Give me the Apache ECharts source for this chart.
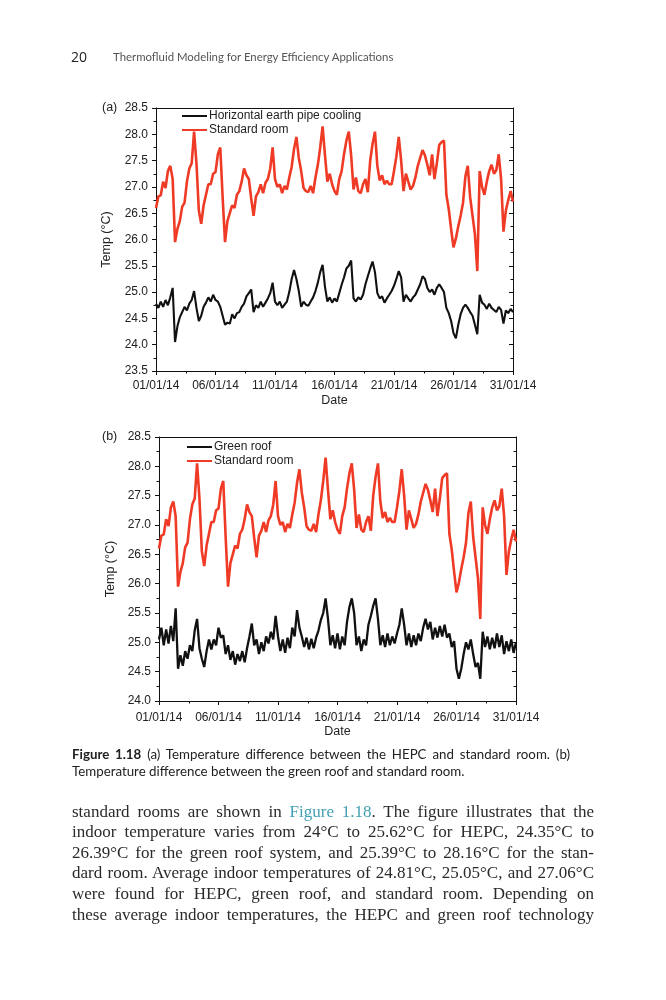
<!DOCTYPE html>
<html>
<head>
<meta charset="utf-8">
<script src="https://cdn.jsdelivr.net/npm/echarts/dist/echarts.min.js"></script>
<style>
html,body{margin:0;padding:0;background:#fff;}
#page{position:relative;width:666px;height:1000px;overflow:hidden;background:#fff;}
#chart{position:absolute;left:0;top:0;width:666px;height:1000px;}
.t{position:absolute;white-space:nowrap;}
.just{text-align:justify;text-align-last:justify;white-space:nowrap;}
.body{font-family:'Liberation Serif',serif;font-size:17px;line-height:20px;color:#2a2a2a;width:522px;left:72px;}
.cap{font-family:Lato,'Open Sans',sans-serif;font-size:13.3px;line-height:17px;color:#222;left:72px;}
.link{color:#3f9fb2;}
</style>
</head>
<body>
<div id="page">
  <div id="chart"></div>
  <div class="t" style="left:71px;top:48px;font-family:'Open Sans',sans-serif;font-size:14px;line-height:18px;color:#222;">20</div>
  <div class="t" style="left:113px;top:49px;font-family:Lato,sans-serif;font-size:11.4px;line-height:16px;color:#555;">Thermofluid Modeling for Energy Efficiency Applications</div>

  <div class="t cap just" style="top:746px;width:498px;"><b>Figure 1.18</b> (a) Temperature difference between the HEPC and standard room. (b)</div>
  <div class="t cap" style="top:763px;">Temperature difference between the green roof and standard room.</div>

  <div class="t body just" style="top:802px;">standard rooms are shown in <span class="link">Figure 1.18</span>. The figure illustrates that the</div>
  <div class="t body just" style="top:822px;">indoor temperature varies from 24°C to 25.62°C for HEPC, 24.35°C to</div>
  <div class="t body just" style="top:843px;">26.39°C for the green roof system, and 25.39°C to 28.16°C for the stan-</div>
  <div class="t body just" style="top:863px;">dard room. Average indoor temperatures of 24.81°C, 25.05°C, and 27.06°C</div>
  <div class="t body just" style="top:884px;">were found for HEPC, green roof, and standard room. Depending on</div>
  <div class="t body just" style="top:905px;">these average indoor temperatures, the HEPC and green roof technology</div>
</div>
<script>
// Samples every 0.2 day from 01/01/14 (day 0) to 31/01/14 (day 30)
const SAMPLE_STEP_DAYS = 0.2;

const xTickLabels = ['01/01/14','06/01/14','11/01/14','16/01/14','21/01/14','26/01/14','31/01/14'];

// Standard room temperature (°C) — same room shown in (a) and (b)
const standardRoom = [
  26.60,26.82,26.84,27.10,26.98,27.30,27.40,27.15,25.95,26.20,
  26.35,26.62,26.70,27.10,27.35,27.45,28.05,27.45,26.55,26.30,
  26.65,26.85,27.05,27.05,27.25,27.28,27.62,27.75,26.80,25.95,
  26.35,26.50,26.65,26.60,26.85,26.92,27.10,27.35,27.22,27.15,
  26.78,26.45,26.82,26.90,27.05,26.88,27.08,27.15,27.35,27.75,
  27.15,27.00,27.05,26.88,27.02,26.95,27.18,27.38,27.72,27.95,
  27.55,27.30,26.98,26.92,26.90,27.02,26.88,27.18,27.42,27.75,
  28.15,27.60,27.10,27.25,27.05,26.92,26.85,27.15,27.30,27.62,
  27.88,28.05,27.60,26.95,27.18,26.92,26.88,27.05,27.15,26.90,
  27.50,27.82,28.05,27.40,27.12,27.22,27.05,27.12,27.05,27.05,
  27.30,27.58,27.95,27.50,26.92,27.25,27.10,26.95,27.02,27.18,
  27.40,27.55,27.70,27.60,27.42,27.22,27.62,27.15,27.45,27.80,
  27.85,27.88,26.85,26.58,26.20,25.85,26.02,26.25,26.45,26.70,
  27.20,27.40,26.80,26.45,26.10,25.40,27.30,27.00,26.85,27.10,
  27.30,27.42,27.25,27.32,27.62,27.15,26.15,26.55,26.75,26.92,
  26.72
];

// Horizontal earth pipe cooling room temperature (°C), chart (a)
const hepc = [
  24.78,24.70,24.82,24.72,24.85,24.75,24.90,25.08,24.05,24.35,
  24.52,24.62,24.72,24.65,24.78,24.85,25.02,24.70,24.45,24.55,
  24.72,24.80,24.90,24.82,24.95,24.85,24.82,24.72,24.55,24.38,
  24.42,24.40,24.58,24.50,24.60,24.62,24.72,24.78,24.92,24.98,
  25.05,24.62,24.75,24.70,24.82,24.72,24.80,24.88,24.98,25.18,
  24.82,24.75,24.82,24.70,24.76,24.82,25.00,25.25,25.42,25.25,
  25.02,24.72,24.82,24.76,24.74,24.82,24.90,25.02,25.18,25.38,
  25.52,25.10,24.82,24.90,24.80,24.88,24.82,24.98,25.14,25.28,
  25.45,25.50,25.60,24.88,24.82,24.90,24.86,24.95,25.15,25.30,
  25.45,25.58,25.38,24.98,24.88,24.92,24.80,24.88,24.95,25.02,
  25.12,25.25,25.40,25.28,24.82,24.95,24.88,24.82,24.90,24.95,
  25.05,25.15,25.30,25.25,25.08,25.00,25.05,24.95,25.08,25.15,
  25.08,25.00,24.70,24.60,24.45,24.22,24.12,24.38,24.58,24.70,
  24.76,24.70,24.62,24.55,24.38,24.20,24.95,24.80,24.76,24.68,
  24.78,24.70,24.66,24.62,24.72,24.66,24.40,24.65,24.60,24.68,
  24.62
];

// Green roof room temperature (°C), chart (b)
const greenRoof = [
  25.05,25.25,24.95,25.22,24.98,25.28,25.02,25.58,24.55,24.78,
  24.60,24.85,24.72,24.95,24.85,25.20,25.40,24.90,24.72,24.58,
  24.85,25.05,24.88,25.05,24.95,25.25,25.08,25.12,24.80,24.95,
  24.70,24.85,24.62,24.80,24.68,24.85,24.66,24.90,25.10,25.32,
  24.95,25.05,24.80,25.00,24.85,25.10,24.98,25.18,25.05,25.45,
  25.10,24.85,25.05,24.82,25.08,24.90,25.25,25.10,25.55,25.25,
  25.10,24.92,25.08,24.88,25.06,24.90,25.08,25.20,25.38,25.50,
  25.75,25.40,24.95,25.12,24.90,25.15,24.88,25.10,24.95,25.35,
  25.60,25.75,25.50,24.95,25.10,24.85,25.05,24.95,25.30,25.45,
  25.62,25.75,25.40,24.95,25.12,24.92,25.15,24.95,25.10,24.98,
  25.15,25.30,25.58,25.30,24.95,25.15,24.92,25.12,24.95,25.15,
  25.02,25.25,25.40,25.22,25.35,25.05,25.25,25.08,25.28,25.10,
  25.30,25.08,25.15,24.92,25.02,24.55,24.38,24.55,24.80,25.00,
  24.88,25.05,24.80,24.58,24.65,24.38,25.18,24.92,25.10,24.88,
  25.08,24.90,25.15,24.92,25.12,24.80,25.02,24.85,25.05,24.82,
  25.00
];

const toPairs = arr => arr.map((v, i) => [+(i * SAMPLE_STEP_DAYS).toFixed(2), v]);

const FONT = 'Liberation Sans, Arial, sans-serif';
const TXT = '#222';

function bottomX(gridIndex) {
  return {
    type: 'value', gridIndex, position: 'bottom', min: 0, max: 30, interval: 5,
    name: 'Date', nameLocation: 'middle', nameGap: gridIndex === 0 ? 23 : 19,
    nameTextStyle: { fontFamily: FONT, fontSize: 12.5, color: TXT },
    axisLine: { show: true, onZero: false, lineStyle: { color: '#111', width: 1 } },
    axisTick: { show: true, inside: false, length: 4, lineStyle: { color: '#111' } },
    minorTick: { show: true, splitNumber: 2, length: 2.5, lineStyle: { color: '#111' } },
    splitLine: { show: false }, minorSplitLine: { show: false },
    axisLabel: { fontFamily: FONT, fontSize: 12, color: TXT, margin: gridIndex === 0 ? 9 : 11,
      formatter: v => xTickLabels[Math.round(v / 5)] }
  };
}
function topX(gridIndex) {
  return {
    type: 'value', gridIndex, position: 'top', min: 0, max: 30, interval: 5,
    axisLine: { show: true, onZero: false, lineStyle: { color: '#111', width: 1 } },
    axisTick: { show: false }, axisLabel: { show: false }, splitLine: { show: false }
  };
}
function leftY(gridIndex, min, max) {
  return {
    type: 'value', gridIndex, position: 'left', min, max, interval: 0.5,
    name: 'Temp (°C)', nameLocation: 'middle', nameGap: gridIndex === 0 ? 43 : 41,
    nameRotate: 90,
    nameTextStyle: { fontFamily: FONT, fontSize: 12.5, color: TXT },
    axisLine: { show: true, onZero: false, lineStyle: { color: '#111', width: 1 } },
    axisTick: { show: true, inside: false, length: 4, lineStyle: { color: '#111' } },
    minorTick: { show: true, splitNumber: 2, length: 2.5, lineStyle: { color: '#111' } },
    splitLine: { show: false }, minorSplitLine: { show: false },
    axisLabel: { fontFamily: FONT, fontSize: 12, color: TXT, margin: 8,
      formatter: v => v.toFixed(1) }
  };
}
function rightY(gridIndex, min, max) {
  return {
    type: 'value', gridIndex, position: 'right', min, max, interval: 0.5,
    axisLine: { show: true, onZero: false, lineStyle: { color: '#111', width: 1 } },
    axisTick: { show: true, inside: true, length: 4, lineStyle: { color: '#111' } },
    minorTick: { show: true, splitNumber: 2, length: 2.5, lineStyle: { color: '#111' } },
    axisLabel: { show: false }, splitLine: { show: false }, minorSplitLine: { show: false }
  };
}

const RED = '#ef3a26';
const BLACK = '#111111';

const legendText = { fontFamily: FONT, fontSize: 12, color: TXT, lineHeight: 14, padding: [0, 0, 0, -3] };

const chart = echarts.init(document.getElementById('chart'), null, { renderer: 'canvas' });
chart.setOption({
  animation: false,
  backgroundColor: 'transparent',
  grid: [
    { left: 156, top: 108, width: 357, height: 263 },
    { left: 159, top: 437, width: 357, height: 264 }
  ],
  xAxis: [bottomX(0), topX(0), bottomX(1), topX(1)],
  yAxis: [leftY(0, 23.5, 28.5), rightY(0, 23.5, 28.5), leftY(1, 24, 28.5), rightY(1, 24, 28.5)],
  legend: [
    { orient: 'vertical', left: 177, top: 104, itemWidth: 25, itemHeight: 2, itemGap: 0, icon: 'rect',
      data: ['Horizontal earth pipe cooling', 'Standard room'], textStyle: legendText },
    { orient: 'vertical', left: 182, top: 435, itemWidth: 25, itemHeight: 2, itemGap: 0, icon: 'rect',
      data: ['Green roof', 'Standard room '], textStyle: legendText }
  ],
  graphic: [
    { type: 'text', left: 102, top: 101, style: { text: '(a)', font: '12.5px ' + FONT, fill: TXT } },
    { type: 'text', left: 102, top: 430, style: { text: '(b)', font: '12.5px ' + FONT, fill: TXT } }
  ],
  series: [
    { name: 'Horizontal earth pipe cooling', type: 'line', xAxisIndex: 0, yAxisIndex: 0,
      data: toPairs(hepc), showSymbol: false, symbol: 'none', color: BLACK,
      lineStyle: { color: BLACK, width: 2.1 } },
    { name: 'Standard room', type: 'line', xAxisIndex: 0, yAxisIndex: 0,
      data: toPairs(standardRoom), showSymbol: false, symbol: 'none', color: RED,
      lineStyle: { color: RED, width: 2.6 } },
    { name: 'Green roof', type: 'line', xAxisIndex: 2, yAxisIndex: 2,
      data: toPairs(greenRoof), showSymbol: false, symbol: 'none', color: BLACK,
      lineStyle: { color: BLACK, width: 2.3 } },
    { name: 'Standard room ', type: 'line', xAxisIndex: 2, yAxisIndex: 2,
      data: toPairs(standardRoom), showSymbol: false, symbol: 'none', color: RED,
      lineStyle: { color: RED, width: 2.6 } }
  ]
});
</script>
</body>
</html>
